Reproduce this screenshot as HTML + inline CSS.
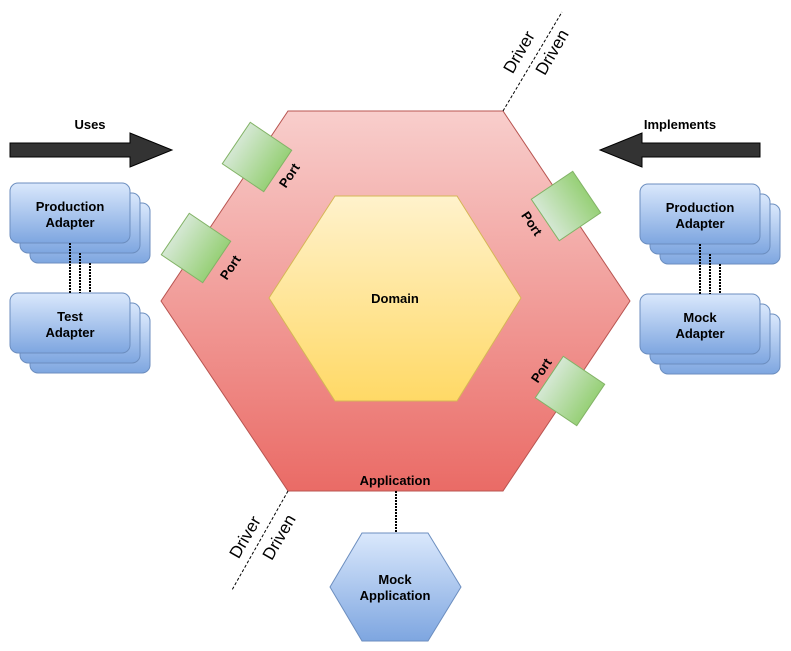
<!DOCTYPE html>
<html><head><meta charset="utf-8"><style>
html,body{margin:0;padding:0;background:#fff;width:791px;height:651px;overflow:hidden}
text{font-family:"Liberation Sans",Arial,sans-serif;font-weight:bold;fill:#000}
</style></head><body>
<svg width="791" height="651" viewBox="0 0 791 651" xmlns="http://www.w3.org/2000/svg">
<defs>
<linearGradient id="red" x1="0" y1="0" x2="0" y2="1"><stop offset="0" stop-color="#f8cecc"/><stop offset="1" stop-color="#ea6b66"/></linearGradient>
<linearGradient id="yel" x1="0" y1="0" x2="0" y2="1"><stop offset="0" stop-color="#fff2cc"/><stop offset="1" stop-color="#ffd966"/></linearGradient>
<linearGradient id="blu" x1="0" y1="0" x2="0" y2="1"><stop offset="0" stop-color="#dae8fc"/><stop offset="1" stop-color="#7ea6e0"/></linearGradient>
<linearGradient id="grn" x1="0" y1="0" x2="1" y2="0"><stop offset="0" stop-color="#d5e8d4"/><stop offset="1" stop-color="#97d077"/></linearGradient>
</defs>
<polygon points="288,111 503,111 630,301 503,491 288,491 161,301" fill="url(#red)" stroke="#b85450"/>
<polygon points="335,196 457,196 521,298 457,401 335,401 269,298" fill="url(#yel)" stroke="#d6b656"/>
<text x="395" y="303" font-size="13" text-anchor="middle">Domain</text>
<text x="395" y="485" font-size="13" text-anchor="middle">Application</text>
<g stroke="#82b366" fill="url(#grn)">
<rect x="-25" y="-25" width="50" height="50" transform="translate(257,157) rotate(34)"/>
<rect x="-25" y="-25" width="50" height="50" transform="translate(196,248) rotate(34)"/>
<rect x="-25" y="-25" width="50" height="50" transform="translate(566,206) rotate(-34)"/>
<rect x="-25" y="-25" width="50" height="50" transform="translate(570,391) rotate(34)"/>
</g>
<g font-size="13">
<text transform="translate(293,178) rotate(-56)" text-anchor="middle">Port</text>
<text transform="translate(234,270) rotate(-56)" text-anchor="middle">Port</text>
<text transform="translate(528,226) rotate(56)" text-anchor="middle">Port</text>
<text transform="translate(545,373) rotate(-56)" text-anchor="middle">Port</text>
</g>
<line x1="503" y1="111" x2="562" y2="12" stroke="#000" stroke-dasharray="3,2"/>
<line x1="288" y1="491" x2="232" y2="590" stroke="#000" stroke-dasharray="3,2"/>
<g font-size="17">
<text transform="translate(524,55) rotate(-60)" text-anchor="middle" style="font-weight:normal">Driver</text>
<text transform="translate(557,55) rotate(-60)" text-anchor="middle" style="font-weight:normal">Driven</text>
<text transform="translate(250,540) rotate(-60)" text-anchor="middle" style="font-weight:normal">Driver</text>
<text transform="translate(284,540) rotate(-60)" text-anchor="middle" style="font-weight:normal">Driven</text>
</g>
<polygon points="10,143 130,143 130,133 172,150 130,167 130,157 10,157" fill="#333" stroke="#000"/>
<polygon points="760,143 642,143 642,133 600,150 642,167 642,157 760,157" fill="#333" stroke="#000"/>
<text x="90" y="129" font-size="13" text-anchor="middle">Uses</text>
<text x="680" y="129" font-size="13" text-anchor="middle">Implements</text>
<g stroke="#6c8ebf" fill="url(#blu)">
<rect x="30" y="203" width="120" height="60" rx="8"/><rect x="20" y="193" width="120" height="60" rx="8"/><rect x="10" y="183" width="120" height="60" rx="8"/>
<rect x="30" y="313" width="120" height="60" rx="8"/><rect x="20" y="303" width="120" height="60" rx="8"/><rect x="10" y="293" width="120" height="60" rx="8"/>
<rect x="660" y="204" width="120" height="60" rx="8"/><rect x="650" y="194" width="120" height="60" rx="8"/><rect x="640" y="184" width="120" height="60" rx="8"/>
<rect x="660" y="314" width="120" height="60" rx="8"/><rect x="650" y="304" width="120" height="60" rx="8"/><rect x="640" y="294" width="120" height="60" rx="8"/>
<polygon points="362,533 428,533 461,587 428,641 362,641 330,587"/>
</g>
<g stroke="#000" stroke-width="2" stroke-dasharray="2,1">
<line x1="70" y1="243" x2="70" y2="293"/><line x1="80" y1="253" x2="80" y2="293"/><line x1="90" y1="263" x2="90" y2="293"/>
<line x1="700" y1="244" x2="700" y2="294"/><line x1="710" y1="254" x2="710" y2="294"/><line x1="720" y1="264" x2="720" y2="294"/>
<line x1="396" y1="491" x2="396" y2="533"/>
</g>
<g font-size="13" text-anchor="middle">
<text x="70" y="211">Production</text><text x="70" y="227">Adapter</text>
<text x="70" y="321">Test</text><text x="70" y="337">Adapter</text>
<text x="700" y="212">Production</text><text x="700" y="228">Adapter</text>
<text x="700" y="322">Mock</text><text x="700" y="338">Adapter</text>
<text x="395" y="584">Mock</text><text x="395" y="600">Application</text>
</g>
</svg>
</body></html>
